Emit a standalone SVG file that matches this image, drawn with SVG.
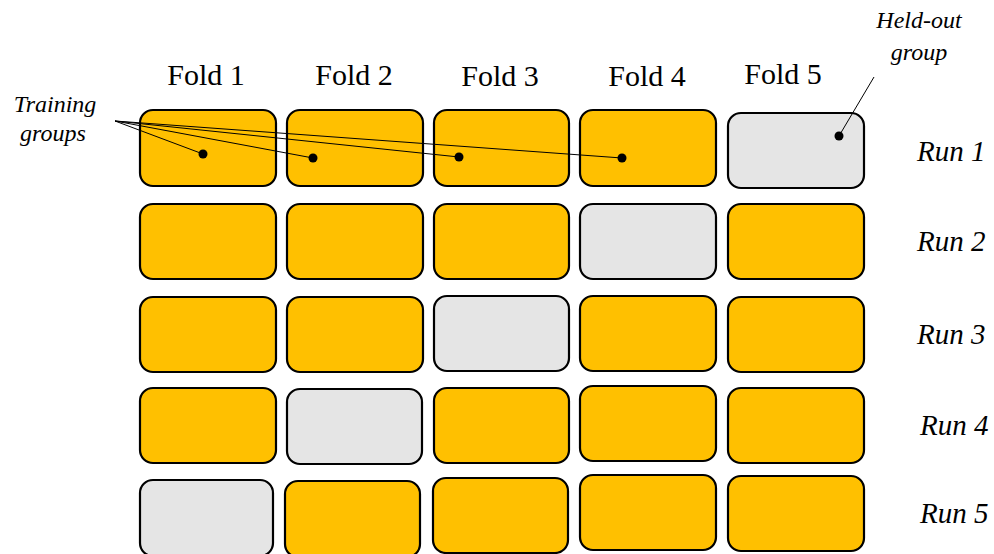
<svg xmlns="http://www.w3.org/2000/svg" width="994" height="554" viewBox="0 0 994 554">
<style>
.box{stroke:#000;stroke-width:2.2}
.tr{fill:#FFC000}
.ho{fill:#E5E5E5}
.fold{font-family:"Liberation Serif",serif;font-size:30px;text-anchor:middle;fill:#000}
.run{font-family:"Liberation Serif",serif;font-size:29px;font-style:italic;fill:#000}
.note{font-family:"Liberation Serif",serif;font-size:24px;font-style:italic;text-anchor:middle;fill:#000}
.ln{stroke:#000;stroke-width:1;fill:none}
</style>
<rect width="994" height="554" fill="#fff"/>
<g id="headers">
<text class="fold" x="206" y="85">Fold 1</text>
<text class="fold" x="354" y="85">Fold 2</text>
<text class="fold" x="500" y="86">Fold 3</text>
<text class="fold" x="647" y="86">Fold 4</text>
<text class="fold" x="783" y="84">Fold 5</text>
</g>
<g id="runs">
<text class="run" x="917" y="161">Run 1</text>
<text class="run" x="917" y="251">Run 2</text>
<text class="run" x="917" y="344">Run 3</text>
<text class="run" x="920" y="435">Run 4</text>
<text class="run" x="920" y="523">Run 5</text>
</g>
<g id="r1">
<rect id="r1f1" class="box tr" x="140" y="110" width="136" height="76" rx="13"/>
<rect id="r1f2" class="box tr" x="287" y="110" width="136" height="76" rx="13"/>
<rect id="r1f3" class="box tr" x="434" y="110" width="135" height="76" rx="13"/>
<rect id="r1f4" class="box tr" x="580" y="110" width="136" height="76" rx="13"/>
<rect id="r1f5" class="box ho" x="728" y="113" width="136" height="75" rx="13"/>
</g>
<g id="r2">
<rect id="r2f1" class="box tr" x="140" y="204" width="136" height="75" rx="13"/>
<rect id="r2f2" class="box tr" x="287" y="204" width="136" height="75" rx="13"/>
<rect id="r2f3" class="box tr" x="434" y="204" width="135" height="75" rx="13"/>
<rect id="r2f4" class="box ho" x="580" y="204" width="136" height="75" rx="13"/>
<rect id="r2f5" class="box tr" x="728" y="204" width="136" height="75" rx="13"/>
</g>
<g id="r3">
<rect id="r3f1" class="box tr" x="140" y="297" width="136" height="75" rx="13"/>
<rect id="r3f2" class="box tr" x="287" y="297" width="136" height="75" rx="13"/>
<rect id="r3f3" class="box ho" x="434" y="296" width="135" height="75" rx="13"/>
<rect id="r3f4" class="box tr" x="580" y="296" width="136" height="75" rx="13"/>
<rect id="r3f5" class="box tr" x="728" y="297" width="136" height="75" rx="13"/>
</g>
<g id="r4">
<rect id="r4f1" class="box tr" x="140" y="388" width="136" height="75" rx="13"/>
<rect id="r4f2" class="box ho" x="287" y="389" width="135" height="75" rx="13"/>
<rect id="r4f3" class="box tr" x="434" y="388" width="135" height="75" rx="13"/>
<rect id="r4f4" class="box tr" x="580" y="386" width="136" height="75" rx="13"/>
<rect id="r4f5" class="box tr" x="728" y="388" width="136" height="75" rx="13"/>
</g>
<g id="r5">
<rect id="r5f1" class="box ho" x="140" y="480" width="133" height="76" rx="13"/>
<rect id="r5f2" class="box tr" x="285" y="481" width="135" height="76" rx="13"/>
<rect id="r5f3" class="box tr" x="433" y="478" width="135" height="75" rx="13"/>
<rect id="r5f4" class="box tr" x="580" y="475" width="136" height="75" rx="13"/>
<rect id="r5f5" class="box tr" x="728" y="476" width="136" height="75" rx="13"/>
</g>
<g id="training-label">
<text class="note" x="55" y="112">Training</text>
<text class="note" x="53" y="141">groups</text>
</g>
<g id="heldout-label">
<text class="note" x="919" y="28">Held-out</text>
<text class="note" x="919" y="60">group</text>
</g>
<g id="connectors">
<line class="ln" x1="115" y1="121" x2="203" y2="154"/>
<line class="ln" x1="115" y1="121" x2="313" y2="158"/>
<line class="ln" x1="115" y1="121" x2="459" y2="157"/>
<line class="ln" x1="115" y1="121" x2="622" y2="158"/>
<line class="ln" x1="874" y1="77" x2="839" y2="136"/>
<circle cx="203" cy="154" r="4.5"/>
<circle cx="313" cy="158" r="4.5"/>
<circle cx="459" cy="157" r="4.5"/>
<circle cx="622" cy="158" r="4.5"/>
<circle cx="839" cy="136" r="4.5"/>
</g>
</svg>
